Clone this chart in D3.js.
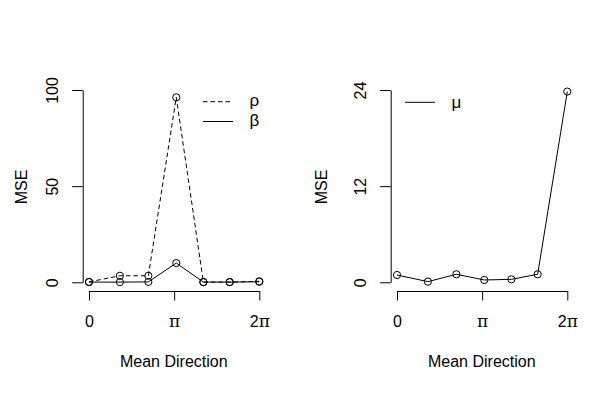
<!DOCTYPE html>
<html>
<head>
<meta charset="utf-8">
<script src="https://cdn.jsdelivr.net/npm/d3@7"></script>
<style>
  body { margin: 0; background: #fff; }
  text { font-family: "Liberation Sans", Arial, sans-serif; font-size: 16px; fill: #000; }
</style>
</head>
<body>
<svg width="616" height="393"></svg>
<script>
// ************** Data *****************
// mean direction (radians) where each MSE was computed
const directions = [0, 1.14, 2.19, 3.22, 4.22, 5.19, 2 * Math.PI];

// left panel
const rho  = [0.2, 3.4, 3.4, 96.2, 0.1, 0.1, 0.5];
const beta = [0.1, 0.1, 0.2, 10.0, 0.1, 0.1, 0.3];
// right panel
const mu   = [0.91, 0.08, 1.0, 0.29, 0.37, 1.0, 23.8];

const xTicks = [0, Math.PI, 2 * Math.PI];
const xTickLabels = [["0", ""], ["", "π"], ["2", "π"]];
const leftYTicks = [0, 50, 100];
const rightYTicks = [0, 12, 24];

// *************** Graph Setup *****************
let svg = d3.select("svg");

function panel(offset, yMax, yTicks, series, legend, ylabX) {
    let g = svg.append("g").attr("transform", "translate(" + offset + ",0)");

    let xScale = d3.scaleLinear().domain([0, 2 * Math.PI]).range([89, 259.3]);
    let yScale = d3.scaleLinear().domain([0, yMax]).range([282.3, 90]);

    // y axis
    let yAxis = g.append("g")
        .attr("transform", "translate(82.7,0)")
        .call(d3.axisLeft(yScale).tickValues(yTicks).tickSize(10.5).tickSizeOuter(0));
    yAxis.selectAll("text")
        .attr("x", null).attr("dy", null)
        .attr("text-anchor", "middle")
        .attr("transform", "translate(-24.7,0) rotate(-90)")
        .style("font-size", "16px");

    // x axis
    let xAxis = g.append("g")
        .attr("transform", "translate(0,291)")
        .call(d3.axisBottom(xScale).tickValues(xTicks).tickSize(9.5).tickSizeOuter(0).tickFormat(""));
    xAxis.selectAll(".tick text")
        .attr("y", 35.7).attr("dy", null)
        .style("font-size", "16px")
        .each(function (d, i) {
            let t = d3.select(this);
            t.append("tspan").text(xTickLabels[i][0]);
            t.append("tspan")
                .style("font-family", "'DejaVu Serif', serif")
                .style("font-size", "17px")
                .text(xTickLabels[i][1]);
        });
    g.selectAll(".domain, .tick line").attr("stroke", "#000");

    // axis titles
    g.append("text")
        .attr("x", 173.8).attr("y", 367)
        .attr("text-anchor", "middle")
        .text("Mean Direction");
    g.append("text")
        .attr("transform", "translate(" + ylabX + ",187) rotate(-90)")
        .attr("text-anchor", "middle")
        .text("MSE");

    // lines + points (type = "o")
    series.forEach(function (s) {
        let line = d3.line()
            .x(function (d, i) { return xScale(directions[i]); })
            .y(function (d) { return yScale(d); });
        g.append("path")
            .datum(s.values)
            .attr("d", line)
            .attr("fill", "none")
            .attr("stroke", "#000")
            .attr("stroke-width", 1)
            .attr("stroke-dasharray", s.dash);
        g.selectAll(null)
            .data(s.values)
            .enter().append("circle")
            .attr("cx", function (d, i) { return xScale(directions[i]); })
            .attr("cy", function (d) { return yScale(d); })
            .attr("r", 3.6)
            .attr("fill", "none")
            .attr("stroke", "#000")
            .attr("stroke-width", 1);
    });

    // legend
    legend.forEach(function (l) {
        g.append("line")
            .attr("x1", l.x).attr("x2", l.x + 30)
            .attr("y1", l.y).attr("y2", l.y)
            .attr("stroke", "#000")
            .attr("stroke-dasharray", l.dash);
        g.append("text")
            .attr("x", l.x + 46.5).attr("y", l.base)
            .style("font-family", "'Liberation Sans', sans-serif")
            .style("font-size", "17px")
            .text(l.label);
    });
}

panel(0, 100, leftYTicks,
    [{ values: rho, dash: "4.5,3" }, { values: beta, dash: null }],
    [{ x: 203, y: 101.7, dash: "4.5,3", label: "ρ", base: 106 },
     { x: 203, y: 121.5, dash: null, label: "β", base: 126 }],
    27.3);

panel(308, 24, rightYTicks,
    [{ values: mu, dash: null }],
    [{ x: 97, y: 102.3, dash: null, label: "μ", base: 108 }],
    19.3);
</script>
</body>
</html>
